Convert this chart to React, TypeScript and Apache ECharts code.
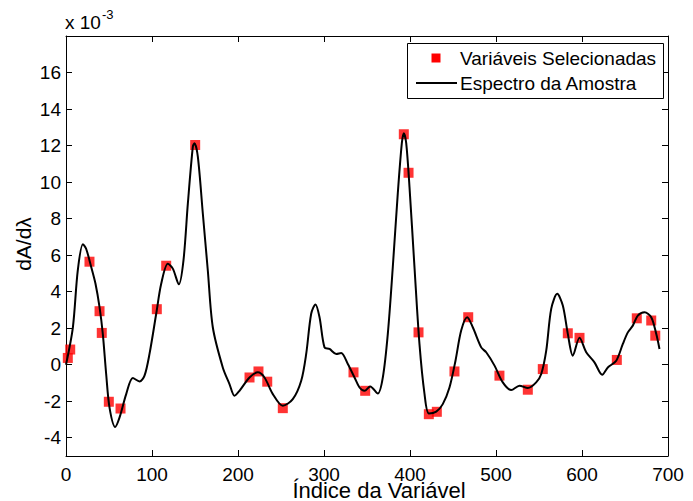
import React, { useEffect, useRef } from "react";
import * as echarts from "echarts";

// Spectrum (values in units of 1e-3)
const spectrumX = [
  0, 8, 13.7, 19.6, 23.4, 29.3, 34.3, 39, 42.8, 46.7, 50.6, 57.2, 62.2, 70, 77.7, 85.5, 91.3, 97.1,
  104.9, 110.7, 118.4, 124.2, 131.2, 136.6, 141.7, 147.5, 149.4, 153.3, 159.1, 164.9, 170.7, 182.3,
  190.1, 196, 201.7, 213.4, 223, 230.8, 240.5, 252.1, 263.7, 273.5, 279.3, 285.1, 290.1, 294.8,
  300.6, 306.4, 314.2, 320, 327.7, 335.5, 341.3, 347.1, 353.7, 362.6, 368.4, 374.2, 380, 385.8,
  390.5, 392.8, 395.6, 399.4, 405.2, 411, 416.9, 421.9, 430.5, 438.1, 445.9, 452.9, 459.5, 466.5,
  473, 482.8, 488.6, 498.3, 507.9, 517.7, 527.3, 537, 546.7, 552.6, 558.4, 564.2, 571.2, 577.7,
  583.5, 589.3, 597.1, 604.9, 614.5, 623.5, 630, 639.8, 647.5, 653.3, 659.1, 664.9, 672.7, 680.5,
  686.3, 690.1,
];
const spectrumY = [
  0.0, 2.05, 5.16, 6.6, 6.35, 5.35, 4.43, 3.15, 1.69, -0.51, -2.35, -3.41, -2.9, -1.61, -0.73, -0.92,
  -0.6, 0.59, 2.79, 4.43, 5.53, 5.26, 4.4, 5.71, 8.83, 11.94, 12.13, 11.39, 8.28, 5.16, 2.05, -0.15,
  -1.06, -1.7, -1.43, -0.7, -0.42, -0.7, -1.61, -2.25, -1.89, -0.88, 0.59, 2.79, 3.3, 2.6, 0.95,
  0.86, 0.59, 0.64, 0.04, -0.7, -1.25, -1.43, -1.19, -1.58, -0.7, 1.69, 5.35, 9.38, 12.13, 12.68,
  12.13, 9.74, 5.35, 1.14, -1.61, -2.67, -2.57, -2.16, -1.25, 0.22, 1.87, 2.6, 2.05, 0.95, 0.68,
  -0.05, -0.97, -1.39, -1.15, -1.28, -0.97, -0.51, 0.77, 3.06, 3.88, 3.24, 1.69, 0.49, 1.47, 0.68,
  0.13, -0.55, -0.15, 0.22, 1.14, 1.77, 2.14, 2.69, 2.87, 2.6, 1.69, 0.86,
];

// Selected variables (values in units of 1e-3)
const selectedX = [
  2.1, 4.9, 27.3, 39, 41.6, 49.8, 63.4, 105.6, 116.5, 150.2, 213.4, 223.8, 234, 252.1, 334.3, 347.9,
  392.8, 398.3, 409.9, 421.9, 431.2, 451.7, 467.7, 504, 537, 554.4, 583.5, 597.1, 640.5, 663.7, 680.5,
  685.2,
];
const selectedY = [
  0.37, 0.83, 5.64, 2.93, 1.74, -2.03, -2.4, 3.04, 5.42, 12.03, -0.7, -0.37, -0.93, -2.38, -0.42, -1.43,
  12.62, 10.51, 1.77, -2.71, -2.58, -0.37, 2.6, -0.6, -1.37, -0.24, 1.72, 1.47, 0.26, 2.54, 2.42, 1.59,
];

const yTicks = [-4, -2, 0, 2, 4, 6, 8, 10, 12, 14, 16];
const legendNames = ["Variáveis Selecionadas", "Espectro da Amostra"];
const xTitle = "Índice da Variável";
const yTitle = "dA/dλ";

const FONT = '"Liberation Sans", Arial, Helvetica, sans-serif';

export default function App() {
  const ref = useRef<HTMLDivElement>(null);
  useEffect(() => {
    document.body.style.margin = "0";
    const chart = echarts.init(ref.current!, undefined, { renderer: "svg" });
    const axisCommon = {
      axisLine: { show: true, onZero: false, lineStyle: { color: "#000", width: 1 } },
      axisTick: { show: true, inside: true, length: 6, lineStyle: { color: "#000", width: 1 } },
      splitLine: { show: false },
    };
    const textStyle = (text: string, size: number, align: string) => ({
      text,
      font: `${size}px ${FONT}`,
      fill: "#000",
      align,
      verticalAlign: "middle",
      textAlign: align,
      textVerticalAlign: "middle",
    });
    chart.setOption({
      animation: false,
      backgroundColor: "#fff",
      grid: { left: 66, right: 25, top: 36, bottom: 45, containLabel: false },
      xAxis: [
        {
          type: "value",
          position: "bottom",
          min: 0,
          max: 700,
          interval: 100,
          ...axisCommon,
          axisLabel: { color: "#000", fontSize: 19, fontFamily: FONT, margin: 9 },
        },
        {
          type: "value",
          position: "top",
          min: 0,
          max: 700,
          interval: 100,
          ...axisCommon,
          axisLabel: { show: false },
        },
      ],
      yAxis: [
        {
          type: "value",
          position: "left",
          min: -5,
          max: 18,
          ...axisCommon,
          axisTick: { ...axisCommon.axisTick, customValues: yTicks },
          axisLabel: { color: "#000", fontSize: 19, fontFamily: FONT, margin: 5, customValues: yTicks },
        },
        {
          type: "value",
          position: "right",
          min: -5,
          max: 18,
          ...axisCommon,
          axisTick: { ...axisCommon.axisTick, customValues: yTicks },
          axisLabel: { show: false, customValues: yTicks },
        },
      ],
      series: [
        {
          name: legendNames[0],
          type: "scatter",
          symbol: "rect",
          symbolSize: 10,
          itemStyle: { color: "#ff0000" },
          data: selectedX.map((x, i) => [x, selectedY[i]]),
          z: 2,
        },
        {
          name: legendNames[1],
          type: "line",
          showSymbol: false,
          smooth: 0.3,
          lineStyle: { color: "#000", width: 2 },
          data: spectrumX.map((x, i) => [x, spectrumY[i]]),
          z: 3,
        },
      ],
      graphic: [
        {
          type: "rect",
          shape: { x: 407.5, y: 43.5, width: 256, height: 55 },
          style: { fill: "#fff", stroke: "#000", lineWidth: 1 },
          z: 10,
        },
        {
          type: "rect",
          shape: { x: 431.5, y: 53.5, width: 9, height: 9 },
          style: { fill: "#ff0000" },
          z: 11,
        },
        {
          type: "line",
          shape: { x1: 416, y1: 83, x2: 457, y2: 83 },
          style: { stroke: "#000", lineWidth: 2 },
          z: 11,
        },
        { type: "text", x: 460, y: 58, z: 11, style: textStyle(legendNames[0], 19, "left") },
        { type: "text", x: 460, y: 83, z: 11, style: textStyle(legendNames[1], 19, "left") },
        { type: "text", x: 379, y: 490, z: 11, style: textStyle(xTitle, 22, "center") },
        {
          type: "text",
          x: 23,
          y: 244,
          rotation: Math.PI / 2,
          z: 11,
          style: textStyle(yTitle, 21, "center"),
        },
        { type: "text", x: 65, y: 22, z: 11, style: textStyle("x 10", 19, "left") },
        { type: "text", x: 102, y: 14, z: 11, style: textStyle("-3", 13, "left") },
      ],
    });
    return () => chart.dispose();
  }, []);
  return <div ref={ref} style={{ width: 693, height: 501 }} />;
}
